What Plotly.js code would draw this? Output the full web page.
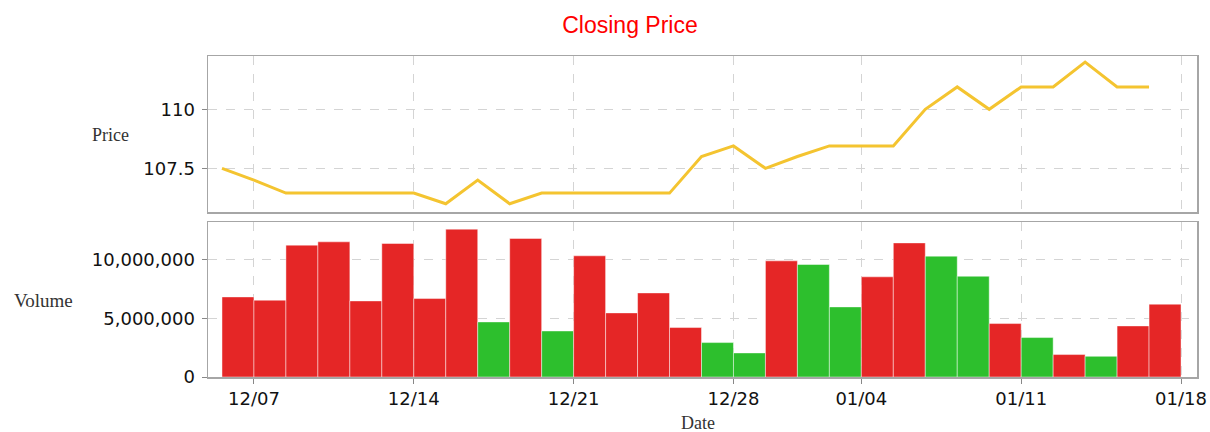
<!DOCTYPE html>
<html><head><meta charset="utf-8">
<script src="https://cdn.plot.ly/plotly-3.0.1.min.js"></script>
<style>html,body{margin:0;padding:0;background:#fff}#chart{width:1210px;height:432px}</style>
</head><body><div id="chart"></div>
<script>
const dates = [
  '2020-12-04',
  '2020-12-07','2020-12-08','2020-12-09','2020-12-10','2020-12-11',
  '2020-12-14','2020-12-15','2020-12-16','2020-12-17','2020-12-18',
  '2020-12-21','2020-12-22','2020-12-23','2020-12-24','2020-12-25',
  '2020-12-28','2020-12-29','2020-12-30','2020-12-31',
  '2021-01-04','2021-01-05','2021-01-06','2021-01-07','2021-01-08',
  '2021-01-11','2021-01-12','2021-01-13','2021-01-14','2021-01-15'
];
const closePrice = [
  107.5,
  107.0, 106.45, 106.45, 106.45, 106.45,
  106.45, 106.0, 107.0, 106.0, 106.45,
  106.45, 106.45, 106.45, 106.45, 108.0,
  108.45, 107.5, 108.0, 108.45,
  108.45, 108.45, 110.0, 110.95, 110.0,
  110.95, 110.95, 112.0, 110.95, 110.95
];
const volume = [
  6820000,
  6540000, 11230000, 11510000, 6480000, 11370000,
  6680000, 12590000, 4690000, 11800000, 3920000,
  10320000, 5460000, 7160000, 4210000, 2930000,
  2050000, 9890000, 9580000, 5970000,
  8530000, 11420000, 10290000, 8580000, 4550000,
  3360000, 1910000, 1760000, 4350000, 6200000
];
const tickDates = ['2020-12-07','2020-12-14','2020-12-21','2020-12-28','2021-01-04','2021-01-11','2021-01-18'];
const holidays = ['2021-01-01'];

const RED = '#e52626', GREEN = '#2dbf2d', GOLD = '#f4c430';
const barColors = closePrice.map((p, i) => (i > 0 && p > closePrice[i - 1]) ? GREEN : RED);

// layout geometry (pixels)
const L = 208, R = 1197, T = 56, B = 377;
const W = R - L, H = B - T;
const px2x = px => (px - L) / W;
const py2y = py => (B - py) / H;

const tickFont = {family: 'DejaVu Sans, sans-serif', size: 18, color: '#111'};
const labelFont = {family: 'Liberation Serif, Times New Roman, serif', size: 18, color: '#333'};
const breaks = [{bounds: ['sat', 'mon']}, {values: holidays}];
const xRange = ['2020-12-03 13:30', '2021-01-18 12:00'];

const xCommon = {
  type: 'date', domain: [0, 1], range: xRange, rangebreaks: breaks,
  tickvals: tickDates, tickformat: '%m/%d',
  showgrid: true, gridcolor: '#d4d4d4', griddash: 'dash', gridwidth: 1,
  showline: true, mirror: true, linecolor: '#a6a6a6', linewidth: 1.5,
  zeroline: false, tickfont: tickFont
};

const traces = [
  {
    type: 'bar', x: dates, y: volume, xaxis: 'x', yaxis: 'y',
    width: 86400000, offset: 0,
    marker: {color: barColors, line: {color: 'rgba(255,255,255,0.45)', width: 1}},
    hoverinfo: 'skip'
  },
  {
    type: 'scatter', mode: 'lines', x: dates, y: closePrice, xaxis: 'x2', yaxis: 'y2',
    line: {color: GOLD, width: 3}, hoverinfo: 'skip'
  }
];

const layout = {
  width: 1210, height: 432,
  margin: {l: L, r: 1210 - R, t: T, b: 432 - B},
  paper_bgcolor: '#fff', plot_bgcolor: '#fff',
  showlegend: false, bargap: 0,
  title: {
    text: 'Closing Price', xref: 'container', x: 630 / 1210, xanchor: 'center',
    yref: 'container', y: 1 - 25 / 432, yanchor: 'middle',
    font: {family: 'Liberation Sans, Arial, sans-serif', size: 23, color: '#ff0000'}
  },
  xaxis: Object.assign({}, xCommon, {
    anchor: 'y', ticks: 'outside', ticklen: 5, tickcolor: '#888', ticklabelstandoff: 0
  }),
  xaxis2: Object.assign({}, xCommon, {
    anchor: 'y2', matches: 'x', showticklabels: false, ticks: ''
  }),
  yaxis: {
    domain: [0, py2y(222)], range: [0, 13.2e6], dtick: 5e6, tick0: 0, tickformat: ',d',
    ticks: 'outside', ticklen: 5, tickcolor: '#888', ticklabelstandoff: 3,
    showgrid: true, gridcolor: '#d4d4d4', griddash: 'dash',
    showline: true, mirror: true, linecolor: '#a6a6a6', linewidth: 1.5,
    zeroline: false, tickfont: tickFont
  },
  yaxis2: {
    domain: [py2y(212), 1], range: [105.65, 112.26], dtick: 2.5, tick0: 0,
    ticks: 'outside', ticklen: 5, tickcolor: '#888', ticklabelstandoff: 3,
    showgrid: true, gridcolor: '#d4d4d4', griddash: 'dash',
    showline: true, mirror: true, linecolor: '#a6a6a6', linewidth: 1.5,
    zeroline: false, tickfont: tickFont
  },
  annotations: [
    {text: 'Price', xref: 'paper', yref: 'paper', x: px2x(110), y: py2y(135),
     xanchor: 'center', yanchor: 'middle', showarrow: false, font: labelFont},
    {text: 'Volume', xref: 'paper', yref: 'paper', x: px2x(43), y: py2y(300),
     xanchor: 'center', yanchor: 'middle', showarrow: false, font: {family: labelFont.family, size: 19, color: '#333'}},
    {text: 'Date', xref: 'paper', yref: 'paper', x: px2x(698), y: py2y(423),
     xanchor: 'center', yanchor: 'middle', showarrow: false, font: labelFont}
  ]
};

Plotly.newPlot('chart', traces, layout, {staticPlot: true, displayModeBar: false});
</script>
</body></html>
